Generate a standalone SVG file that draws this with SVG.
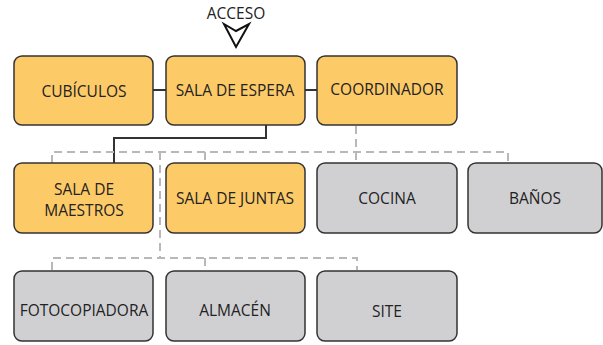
<svg xmlns="http://www.w3.org/2000/svg" width="603" height="345" viewBox="0 0 603 345">
<style>
.box{stroke:#333;stroke-width:1.5}
.o{fill:#FDCA68}
.g{fill:#D0D0D3}
.t{font-family:"Open Sans","Noto Sans",sans-serif;font-size:15.5px;fill:#222;text-anchor:middle;dominant-baseline:central}
.solid{fill:none;stroke:#333;stroke-width:2}
.dash{fill:none;stroke:#B8B8B8;stroke-width:2;stroke-dasharray:8,5}
</style>
<rect width="603" height="345" fill="#fff"/>
<g id="connectors">
<line class="solid" x1="153" y1="90" x2="166" y2="90"/>
<line class="solid" x1="305" y1="90" x2="317" y2="90"/>
<polyline class="solid" points="266,125 266,138 114,138 114,163"/>
<polyline class="dash" points="52,163 52,152 508,152 508,163"/>
<line class="dash" x1="205" y1="152" x2="205" y2="163"/>
<line class="dash" x1="356" y1="126" x2="356" y2="163"/>
<polyline class="dash" points="160,152 160,258"/>
<polyline class="dash" points="52,270 52,258 357,258 357,270"/>
<line class="dash" x1="205" y1="258" x2="205" y2="270"/>
</g>
<g id="acceso">
<text class="t" x="236" y="13">ACCESO</text>
<polygon points="224,24 236,31 249,24 236,47" fill="#fff" stroke="#111" stroke-width="2" stroke-linejoin="miter"/>
</g>
<g id="cubiculos"><rect class="box o" x="14" y="56" width="139" height="69" rx="8"/><text class="t" x="84" y="91">CUBÍCULOS</text></g>
<g id="sala-espera"><rect class="box o" x="166" y="56" width="139" height="69" rx="8"/><text class="t" x="235" y="90">SALA DE ESPERA</text></g>
<g id="coordinador"><rect class="box o" x="317" y="56" width="140" height="69" rx="8"/><text class="t" x="387" y="89">COORDINADOR</text></g>
<g id="sala-maestros"><rect class="box o" x="14" y="163" width="139" height="70" rx="8"/><text class="t" x="84" y="188.5">SALA DE</text><text class="t" x="84" y="210">MAESTROS</text></g>
<g id="sala-juntas"><rect class="box o" x="166" y="163" width="139" height="70" rx="8"/><text class="t" x="235" y="198">SALA DE JUNTAS</text></g>
<g id="cocina"><rect class="box g" x="317" y="163" width="140" height="70" rx="8"/><text class="t" x="387" y="198">COCINA</text></g>
<g id="banos"><rect class="box g" x="468" y="163" width="134" height="70" rx="8"/><text class="t" x="535" y="198">BAÑOS</text></g>
<g id="fotocopiadora"><rect class="box g" x="14" y="271" width="139" height="70" rx="8"/><text class="t" x="84" y="310">FOTOCOPIADORA</text></g>
<g id="almacen"><rect class="box g" x="166" y="271" width="139" height="70" rx="8"/><text class="t" x="235" y="310">ALMACÉN</text></g>
<g id="site"><rect class="box g" x="317" y="271" width="140" height="70" rx="8"/><text class="t" x="387" y="311">SITE</text></g>
</svg>
